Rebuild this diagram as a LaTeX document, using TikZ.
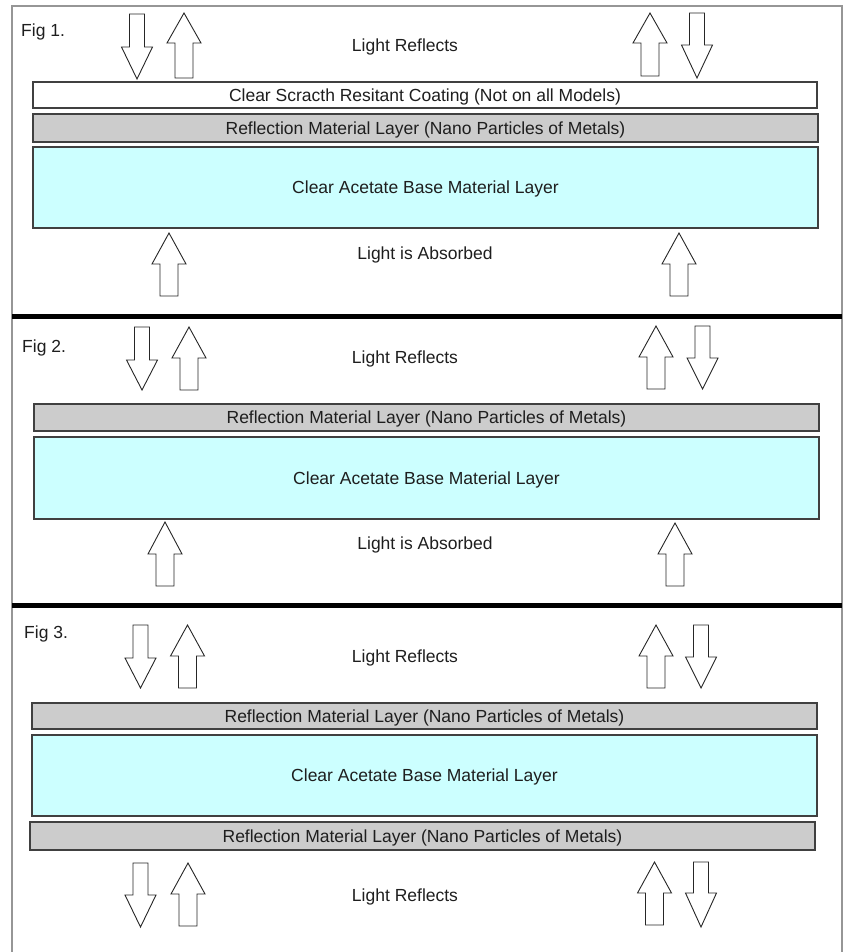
\documentclass[tikz,border=0pt]{standalone}
\usepackage{fontspec}
\setmainfont{Liberation Sans}
\definecolor{layergray}{RGB}{204,204,204}
\definecolor{layercyan}{RGB}{204,255,255}
\definecolor{framegray}{RGB}{150,150,150}
\definecolor{txt}{RGB}{30,30,30}
\newcommand\UpArr[4]{%
  \draw[blockarrow] (#1,#2) -- (#1+17,#3) -- (#1+9,#3) -- (#1+9,#4) -- (#1-9,#4) -- (#1-9,#3) -- (#1-17,#3) -- cycle;}
\newcommand\DnArr[4]{%
  \draw[blockarrow] (#1-7.5,#2) -- (#1+7.5,#2) -- (#1+7.5,#3) -- (#1+15.5,#3) -- (#1,#4) -- (#1-15.5,#3) -- (#1-7.5,#3) -- cycle;}
\begin{document}
\begin{tikzpicture}[x=1pt,y=-1pt,
  lbl/.style={font=\fontsize{17.5}{20}\selectfont, text=txt, inner sep=0pt, text height=12.5pt, text depth=0pt},
  layer/.style={lbl, draw=black!75, line width=1.3pt},
  graylayer/.style={layer, fill=layergray},
  cyanlayer/.style={layer, fill=layercyan},
  whitelayer/.style={layer, fill=white},
  blockarrow/.style={draw=black!85, fill=white, line width=0.9pt, line join=miter},
  sep/.style={line width=5pt, black}]
\useasboundingbox (0,0) rectangle (849,952);
% frame
\draw[framegray, line width=1.5pt] (12,953) -- (12,6) -- (842,6) -- (842,953);
\draw[sep] (12,316) -- (842,316);
\draw[sep] (12,605) -- (842,605);

% ---------- Fig 1 ----------
\node[lbl, anchor=west] (f1) at (21,30) {Fig 1.};
\node[lbl] (f1top) at (405,45) {Light Reflects};
\DnArr{137}{14}{47}{79}
\UpArr{184}{13}{43}{78}
\UpArr{650}{13}{43}{76}
\DnArr{697}{13}{45}{78}
\node[whitelayer, minimum width=784pt, minimum height=26pt] (f1coat) at (425,95) {Clear Scracth Resitant Coating (Not on all Models)};
\node[graylayer, minimum width=785pt, minimum height=28pt] (f1refl) at (425.5,128) {Reflection Material Layer (Nano Particles of Metals)};
\node[cyanlayer, minimum width=785pt, minimum height=81pt] (f1base) at (425.5,187.5) {Clear Acetate Base Material Layer};
\UpArr{169}{233}{264}{296}
\UpArr{679}{233}{264}{296}
\node[lbl] (f1bot) at (425,253) {Light is Absorbed};

% ---------- Fig 2 ----------
\node[lbl, anchor=west] (f2) at (22,346) {Fig 2.};
\node[lbl] (f2top) at (405,357) {Light Reflects};
\DnArr{142}{327}{360}{390}
\UpArr{189}{327}{358}{390}
\UpArr{656}{326}{357}{389}
\DnArr{702.5}{326}{358}{389}
\node[graylayer, minimum width=785pt, minimum height=27pt] (f2refl) at (426.5,417.5) {Reflection Material Layer (Nano Particles of Metals)};
\node[cyanlayer, minimum width=785pt, minimum height=82pt] (f2base) at (426.5,478) {Clear Acetate Base Material Layer};
\UpArr{165}{522}{554}{586}
\UpArr{675}{523}{554}{586}
\node[lbl] (f2bot) at (425,543) {Light is Absorbed};

% ---------- Fig 3 ----------
\node[lbl, anchor=west] (f3) at (24,632) {Fig 3.};
\node[lbl] (f3top) at (405,656) {Light Reflects};
\DnArr{140.5}{625}{658}{688}
\UpArr{187.5}{625}{656}{688}
\UpArr{656}{625}{656}{688}
\DnArr{701}{625}{657}{688}
\node[graylayer, minimum width=785pt, minimum height=26pt] (f3refl) at (424.5,716) {Reflection Material Layer (Nano Particles of Metals)};
\node[cyanlayer, minimum width=785pt, minimum height=81pt] (f3base) at (424.5,775.5) {Clear Acetate Base Material Layer};
\node[graylayer, minimum width=785pt, minimum height=28pt] (f3refl2) at (422.5,836) {Reflection Material Layer (Nano Particles of Metals)};
\DnArr{140.5}{863}{895}{927}
\UpArr{188}{863}{894}{926}
\UpArr{654.5}{862}{893}{925}
\DnArr{701}{862}{893}{927}
\node[lbl] (f3bot) at (405,895) {Light Reflects};
\end{tikzpicture}
\end{document}
